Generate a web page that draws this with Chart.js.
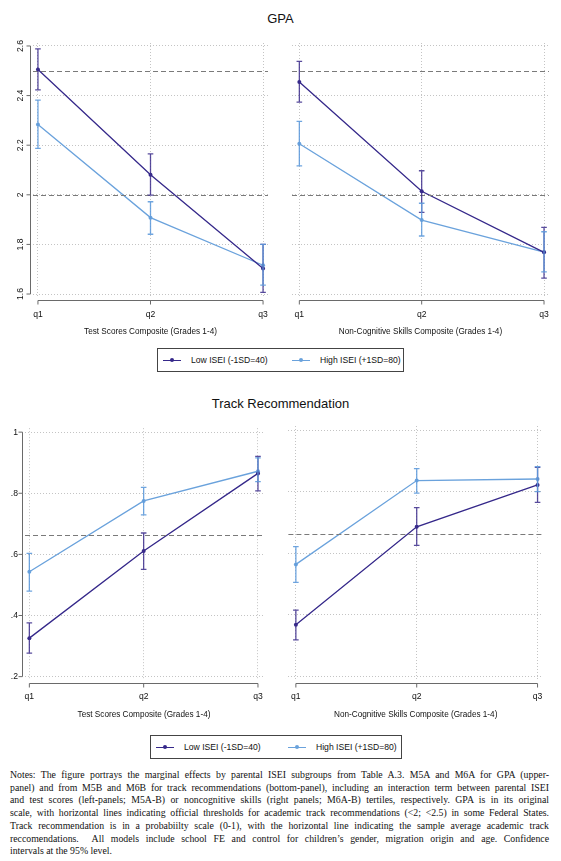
<!DOCTYPE html>
<html><head><meta charset="utf-8">
<script src="https://cdn.jsdelivr.net/npm/chart.js@4.4.1/dist/chart.umd.min.js"></script>
<style>
body{margin:0;background:#fff;width:561px;height:861px;position:relative;overflow:hidden;font-family:'Liberation Sans',Arial,sans-serif;}
canvas{position:absolute;}
.title{position:absolute;left:0;width:561px;text-align:center;font-size:13px;color:#111;line-height:14px;}
.legend{position:absolute;border:1px solid #444;box-sizing:border-box;font-size:8.6px;color:#111;}
.item{position:absolute;top:0;bottom:0;display:flex;align-items:center;white-space:nowrap;}
.swatch{position:relative;width:18px;height:8px;margin-right:10px;}
.swatch:before{content:'';position:absolute;left:0;right:0;top:3.5px;height:1.2px;background:var(--c);}
.swatch:after{content:'';position:absolute;left:7px;top:2px;width:4px;height:4px;border-radius:50%;background:var(--c);}
.notes{position:absolute;left:10px;width:539px;top:769px;font-family:'Liberation Serif','Times New Roman',serif;font-size:9.8px;line-height:12.7px;color:#111;}
.notes div{text-align:justify;text-align-last:justify;white-space:nowrap;}
.notes div.last{text-align-last:left;}
</style></head><body>

<div class="title" style="top:12px">GPA</div>
<canvas id="tl" width="280" height="315" style="left:0;top:30px"></canvas>
<canvas id="tr" width="281" height="315" style="left:280px;top:30px"></canvas>
<div class="legend" style="left:157px;top:348px;width:247px;height:24px">
  <div class="item" style="left:5px"><span class="swatch" style="--c:#35288a"></span>Low ISEI (-1SD=40)</div>
  <div class="item" style="left:134px"><span class="swatch" style="--c:#6aa2dc"></span>High ISEI (+1SD=80)</div>
</div>

<div class="title" style="top:397px">Track Recommendation</div>
<canvas id="bl" width="280" height="309" style="left:0;top:416px"></canvas>
<canvas id="br" width="281" height="309" style="left:280px;top:416px"></canvas>
<div class="legend" style="left:150px;top:735px;width:252px;height:24px">
  <div class="item" style="left:5px"><span class="swatch" style="--c:#35288a"></span>Low ISEI (-1SD=40)</div>
  <div class="item" style="left:137px"><span class="swatch" style="--c:#6aa2dc"></span>High ISEI (+1SD=80)</div>
</div>

<div class="notes">
<div>Notes: The figure portrays the marginal effects by parental ISEI subgroups from Table A.3. M5A and M6A for GPA (upper-</div>
<div>panel) and from M5B and M6B for track recommendations (bottom-panel), including an interaction term between parental ISEI</div>
<div>and test scores (left-panels; M5A-B) or noncognitive skills (right panels; M6A-B) tertiles, respectively. GPA is in its original</div>
<div>scale, with horizontal lines indicating official thresholds for academic track recommendations (&lt;2; &lt;2.5) in some Federal States.</div>
<div>Track recommendation is in a probabiilty scale (0-1), with the horizontal line indicating the sample average academic track</div>
<div>reccomendations.&nbsp; All models include school FE and control for children’s gender, migration origin and age. Confidence</div>
<div class="last">intervals at the 95% level.</div>
</div>

<script>
// ---------- data ----------
const categories = ['q1', 'q2', 'q3'];
const seriesNames = ['Low ISEI (-1SD=40)', 'High ISEI (+1SD=80)'];

// GPA, test scores composite
const gpaTestLow = [2.505, 2.081, 1.703];
const gpaTestLowLo = [2.423, 1.999, 1.607];
const gpaTestLowHi = [2.588, 2.165, 1.800];
const gpaTestHigh = [2.283, 1.908, 1.716];
const gpaTestHighLo = [2.187, 1.841, 1.636];
const gpaTestHighHi = [2.382, 1.972, 1.800];

// GPA, non-cognitive skills composite
const gpaNcLow = [2.455, 2.014, 1.768];
const gpaNcLowLo = [2.374, 1.929, 1.664];
const gpaNcLowHi = [2.538, 2.097, 1.869];
const gpaNcHigh = [2.206, 1.898, 1.769];
const gpaNcHighLo = [2.117, 1.834, 1.689];
const gpaNcHighHi = [2.296, 1.966, 1.851];

// Track recommendation, test scores composite
const trTestLow = [0.326, 0.611, 0.865];
const trTestLowLo = [0.277, 0.551, 0.808];
const trTestLowHi = [0.376, 0.670, 0.921];
const trTestHigh = [0.543, 0.775, 0.872];
const trTestHighLo = [0.480, 0.729, 0.838];
const trTestHighHi = [0.603, 0.819, 0.916];

// Track recommendation, non-cognitive skills composite
const trNcLow = [0.368, 0.686, 0.822];
const trNcLowLo = [0.319, 0.626, 0.765];
const trNcLowHi = [0.416, 0.748, 0.879];
const trNcHigh = [0.564, 0.836, 0.841];
const trNcHighLo = [0.506, 0.795, 0.800];
const trNcHighHi = [0.622, 0.875, 0.881];

// reference lines
const gpaThresholds = [2.0, 2.5];
const trackAverage = [0.663];

// tick labels
const gpaTicks = [1.6, 1.8, 2.0, 2.2, 2.4, 2.6];
const gpaTickLabels = ['1.6', '1.8', '2', '2.2', '2.4', '2.6'];
const trTicks = [0.2, 0.4, 0.6, 0.8, 1.0];
const trTickLabels = ['.2', '.4', '.6', '.8', '1'];
const xTitles = ['Test Scores Composite (Grades 1-4)', 'Non-Cognitive Skills Composite (Grades 1-4)'];

// ---------- styling ----------
const DARK = '#35288a', DARK_CI = 'rgba(60,45,140,0.85)';
const LIGHT = '#6aa2dc', LIGHT_CI = 'rgba(95,155,220,0.9)';
Chart.defaults.font.family = "'Liberation Sans', Arial, sans-serif";
Chart.defaults.color = '#222';

const stataPlugin = {
  id: 'stata',
  afterDatasetsDraw(chart, args, opts) {
    const {ctx, chartArea: a, scales: {x, y}} = chart;
    ctx.save();
    ctx.strokeStyle = '#7a7a7a'; ctx.lineWidth = 1; ctx.setLineDash([5, 3]);
    (opts.refs || []).forEach(v => {
      const py = Math.round(y.getPixelForValue(v)) + 0.5;
      ctx.beginPath(); ctx.moveTo(a.left, py); ctx.lineTo(a.right, py); ctx.stroke();
    });
    ctx.setLineDash([]);
    (opts.bars || []).forEach(b => {
      ctx.strokeStyle = b.color; ctx.lineWidth = 1.3;
      b.lo.forEach((lo, i) => {
        const px = x.getPixelForValue(i + 1);
        const p1 = y.getPixelForValue(lo), p2 = y.getPixelForValue(b.hi[i]);
        ctx.beginPath();
        ctx.moveTo(px, p1); ctx.lineTo(px, p2);
        ctx.moveTo(px - 2.8, p1); ctx.lineTo(px + 2.8, p1);
        ctx.moveTo(px - 2.8, p2); ctx.lineTo(px + 2.8, p2);
        ctx.stroke();
      });
    });
    ctx.restore();
  },
  afterDraw(chart, args, opts) {
    const {ctx, chartArea: a, scales: {x, y}} = chart;
    ctx.save();
    ctx.strokeStyle = '#6a6a6a'; ctx.lineWidth = 1;
    const xs = categories.map((c, i) => x.getPixelForValue(i + 1));
    const ay = a.bottom + 3.5;
    ctx.beginPath();
    ctx.moveTo(xs[0], ay); ctx.lineTo(xs[xs.length - 1], ay);
    xs.forEach(px => { ctx.moveTo(px, ay); ctx.lineTo(px, ay + 4); });
    ctx.stroke();
    if (opts.yAxis) {
      const ticks = opts.yTicks;
      const ax = a.left - 2.5;
      ctx.beginPath();
      ctx.moveTo(ax, y.getPixelForValue(ticks[0])); ctx.lineTo(ax, y.getPixelForValue(ticks[ticks.length - 1]));
      ticks.forEach(v => { const py = y.getPixelForValue(v); ctx.moveTo(ax, py); ctx.lineTo(ax - 4, py); });
      ctx.stroke();
    }
    ctx.restore();
  }
};

function toXY(arr) { return arr.map((v, i) => ({x: i + 1, y: v})); }

function makeChart(id, cfg) {
  const ds = (data, color, label) => ({
    label, data: toXY(data), borderColor: color, backgroundColor: color, borderWidth: 1.3,
    pointRadius: 2, pointHoverRadius: 2, pointBorderWidth: 0, tension: 0
  });
  new Chart(document.getElementById(id), {
    type: 'line',
    data: {datasets: [ds(cfg.low, DARK, seriesNames[0]), ds(cfg.high, LIGHT, seriesNames[1])]},
    options: {
      responsive: false, animation: false, events: [],
      layout: {padding: cfg.padding},
      plugins: {
        legend: {display: false}, tooltip: {enabled: false},
        stata: {
          refs: cfg.refs, yAxis: cfg.showY, yTicks: cfg.yTicks,
          bars: [{lo: cfg.lowLo, hi: cfg.lowHi, color: DARK_CI}, {lo: cfg.highLo, hi: cfg.highHi, color: LIGHT_CI}]
        }
      },
      scales: {
        x: {
          type: 'linear', min: cfg.xMin, max: cfg.xMax,
          afterBuildTicks: s => { s.ticks = categories.map((c, i) => ({value: i + 1})); },
          afterFit: s => { s.height = cfg.xHeight; },
          ticks: {autoSkip: false, maxRotation: 0, padding: cfg.xTickPad, font: {size: 8.6}, color: '#111',
                  callback: v => categories[v - 1]},
          grid: {color: '#c4c4c4', lineWidth: 1, drawTicks: false},
          border: {display: false, dash: [1, 2]},
          title: {display: true, text: cfg.xTitle, font: {size: 8.2}, color: '#111', padding: {top: 0, bottom: cfg.titlePad}}
        },
        y: {
          type: 'linear', min: cfg.yMin, max: cfg.yMax,
          afterBuildTicks: s => { s.ticks = cfg.yTicks.map(v => ({value: v})); },
          afterFit: s => { s.width = cfg.yWidth; },
          ticks: Object.assign({display: cfg.showY, autoSkip: false, font: {size: 8.6}, color: '#111',
                  callback: v => cfg.yLabels[cfg.yTicks.findIndex(t => Math.abs(t - v) < 1e-9)]}, cfg.yTickOpts),
          grid: {color: '#c4c4c4', lineWidth: 1, drawTicks: false},
          border: {display: false, dash: [1, 2]}
        }
      }
    },
    plugins: [stataPlugin]
  });
}

const gpaY = {yMin: 1.588, yMax: 2.612, yTicks: gpaTicks, yLabels: gpaTickLabels, refs: gpaThresholds};
const trY = {yMin: 0.189, yMax: 1.013, yTicks: trTicks, yLabels: trTickLabels, refs: trackAverage};

makeChart('tl', Object.assign({}, gpaY, {
  low: gpaTestLow, lowLo: gpaTestLowLo, lowHi: gpaTestLowHi,
  high: gpaTestHigh, highLo: gpaTestHighLo, highHi: gpaTestHighHi,
  xTitle: xTitles[0], xMin: 0.956, xMax: 3.044, showY: true, yWidth: 33,
  yTickOpts: {minRotation: 90, maxRotation: 90, crossAlign: 'center', padding: 6},
  padding: {top: 13, right: 8, left: 0, bottom: 0}, xHeight: 48, xTickPad: 12, titlePad: 8
}));
makeChart('tr', Object.assign({}, gpaY, {
  low: gpaNcLow, lowLo: gpaNcLowLo, lowHi: gpaNcLowHi,
  high: gpaNcHigh, highLo: gpaNcHighLo, highHi: gpaNcHighHi,
  xTitle: xTitles[1], xMin: 0.94, xMax: 3.04, showY: false, yWidth: 12, yTickOpts: {},
  padding: {top: 13, right: 10, left: 0, bottom: 0}, xHeight: 48, xTickPad: 12, titlePad: 8
}));
makeChart('bl', Object.assign({}, trY, {
  low: trTestLow, lowLo: trTestLowLo, lowHi: trTestLowHi,
  high: trTestHigh, highLo: trTestHighLo, highHi: trTestHighHi,
  xTitle: xTitles[0], xMin: 0.962, xMax: 3.044, showY: true, yWidth: 25,
  yTickOpts: {crossAlign: 'near', padding: 7},
  padding: {top: 10, right: 17, left: 0, bottom: 0}, xHeight: 45, xTickPad: 11, titlePad: 5
}));
makeChart('br', Object.assign({}, trY, {
  low: trNcLow, lowLo: trNcLowLo, lowHi: trNcLowHi,
  high: trNcHigh, highLo: trNcHighLo, highHi: trNcHighHi,
  xTitle: xTitles[1], xMin: 0.938, xMax: 3.045, showY: false, yWidth: 3, yTickOpts: {},
  padding: {top: 10, right: 18, left: 0, bottom: 0}, xHeight: 45, xTickPad: 11, titlePad: 5
}));
</script>
</body></html>
